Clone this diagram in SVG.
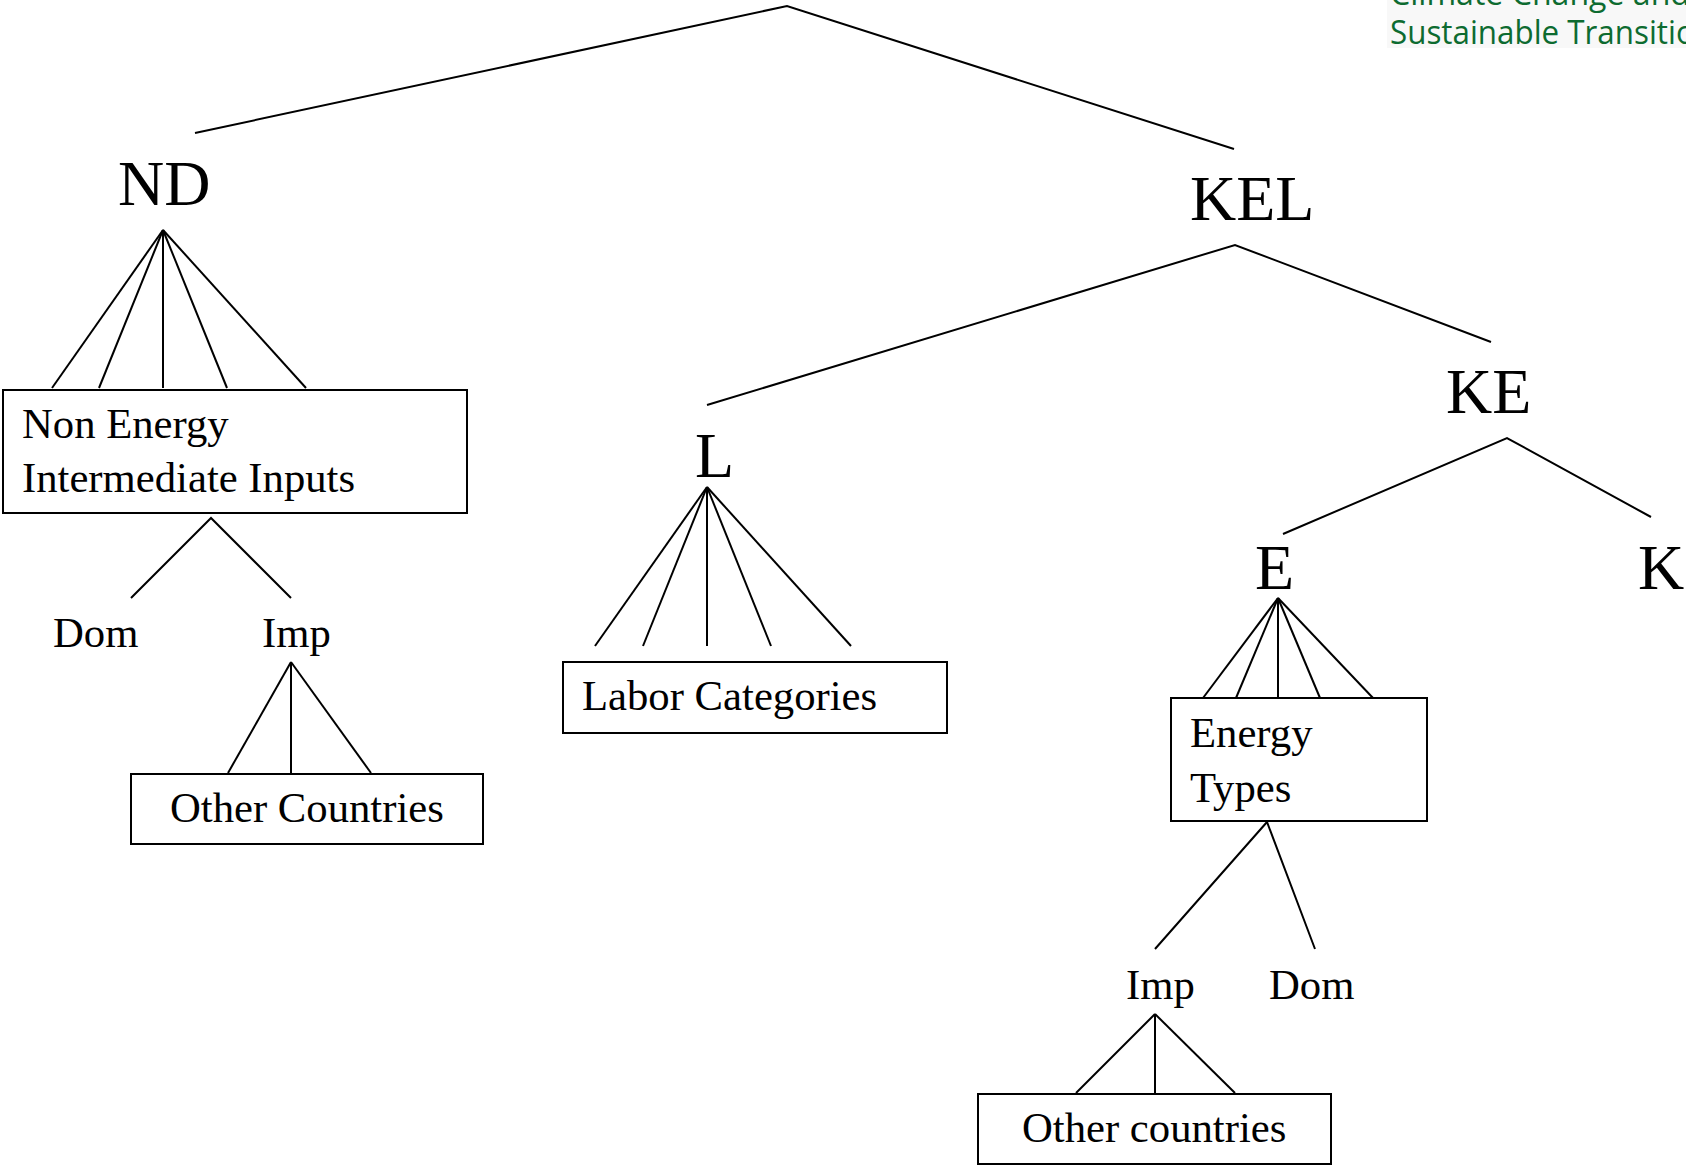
<svg xmlns="http://www.w3.org/2000/svg" width="1686" height="1166" viewBox="0 0 1686 1166">
  <style>
    .big { font-family: "Liberation Serif", "Times New Roman", serif; font-size: 64px; fill: #000; }
    .sm { font-family: "Liberation Serif", "Times New Roman", serif; font-size: 42.7px; fill: #000; }
    .box { fill: #fff; stroke: #000; stroke-width: 2; }
    .conn line, .conn polyline { stroke: #000; stroke-width: 2; fill: none; }
    .brand { font-family: "Open Sans", "Noto Sans", sans-serif; font-size: 32px; fill: #0d6b30; }
  </style>
  <rect x="0" y="0" width="1686" height="1166" fill="#fff"/>

  <g id="brand">
    <rect x="1387" y="0" width="299" height="48" fill="#f8f8f8"/>
    <text class="brand" x="1390" y="5" textLength="300" lengthAdjust="spacingAndGlyphs">Climate Change and</text>
    <text class="brand" x="1390" y="44" textLength="324" lengthAdjust="spacingAndGlyphs">Sustainable Transition</text>
  </g>

  <g id="connectors" class="conn">
    <!-- root -->
    <polyline points="195,133 787,6 1234,149"/>
    <!-- ND fan -->
    <line x1="163" y1="230" x2="52" y2="388"/>
    <line x1="163" y1="230" x2="99" y2="388"/>
    <line x1="163" y1="230" x2="163" y2="388"/>
    <line x1="163" y1="230" x2="227" y2="388"/>
    <line x1="163" y1="230" x2="306" y2="388"/>
    <!-- NEII to Dom/Imp -->
    <polyline points="131,598 211,518 291,598"/>
    <!-- Imp fan -->
    <line x1="291" y1="662" x2="228" y2="773"/>
    <line x1="291" y1="662" x2="291" y2="773"/>
    <line x1="291" y1="662" x2="371" y2="773"/>
    <!-- KEL -->
    <polyline points="707,405 1235,245 1491,342"/>
    <!-- L fan -->
    <line x1="707" y1="487" x2="595" y2="646"/>
    <line x1="707" y1="487" x2="643" y2="646"/>
    <line x1="707" y1="487" x2="707" y2="646"/>
    <line x1="707" y1="487" x2="771" y2="646"/>
    <line x1="707" y1="487" x2="851" y2="646"/>
    <!-- KE -->
    <polyline points="1283,534 1507,438 1651,517"/>
    <!-- E fan -->
    <line x1="1278" y1="598" x2="1203" y2="698"/>
    <line x1="1278" y1="598" x2="1236" y2="698"/>
    <line x1="1278" y1="598" x2="1278" y2="698"/>
    <line x1="1278" y1="598" x2="1320" y2="698"/>
    <line x1="1278" y1="598" x2="1373" y2="698"/>
    <!-- Energy types to Imp/Dom -->
    <polyline points="1155,949 1267,822 1315,949"/>
    <!-- Imp fan (energy) -->
    <line x1="1155" y1="1014" x2="1076" y2="1093"/>
    <line x1="1155" y1="1014" x2="1155" y2="1093"/>
    <line x1="1155" y1="1014" x2="1235" y2="1093"/>
  </g>

  <g id="node-ND"><text class="big" x="118" y="205">ND</text></g>
  <g id="node-NEII">
    <rect class="box" x="3" y="390" width="464" height="123"/>
    <text class="sm" x="22" y="438">Non Energy</text>
    <text class="sm" x="22" y="492">Intermediate Inputs</text>
  </g>
  <g id="node-Dom1"><text class="sm" x="53" y="647">Dom</text></g>
  <g id="node-Imp1"><text class="sm" x="262" y="647">Imp</text></g>
  <g id="node-OtherCountries">
    <rect class="box" x="131" y="774" width="352" height="70"/>
    <text class="sm" x="170" y="822">Other Countries</text>
  </g>

  <g id="node-KEL"><text class="big" x="1190" y="220">KEL</text></g>
  <g id="node-L"><text class="big" x="695" y="477">L</text></g>
  <g id="node-Labor">
    <rect class="box" x="563" y="662" width="384" height="71"/>
    <text class="sm" x="582" y="710">Labor Categories</text>
  </g>
  <g id="node-KE"><text class="big" x="1446" y="413">KE</text></g>
  <g id="node-E"><text class="big" x="1255" y="589">E</text></g>
  <g id="node-K"><text class="big" x="1638" y="589">K</text></g>
  <g id="node-EnergyTypes">
    <rect class="box" x="1171" y="698" width="256" height="123"/>
    <text class="sm" x="1190" y="747">Energy</text>
    <text class="sm" x="1190" y="802">Types</text>
  </g>
  <g id="node-Imp2"><text class="sm" x="1126" y="999">Imp</text></g>
  <g id="node-Dom2"><text class="sm" x="1269" y="999">Dom</text></g>
  <g id="node-OtherCountries2">
    <rect class="box" x="978" y="1094" width="353" height="70"/>
    <text class="sm" x="1022" y="1142">Other countries</text>
  </g>
</svg>
